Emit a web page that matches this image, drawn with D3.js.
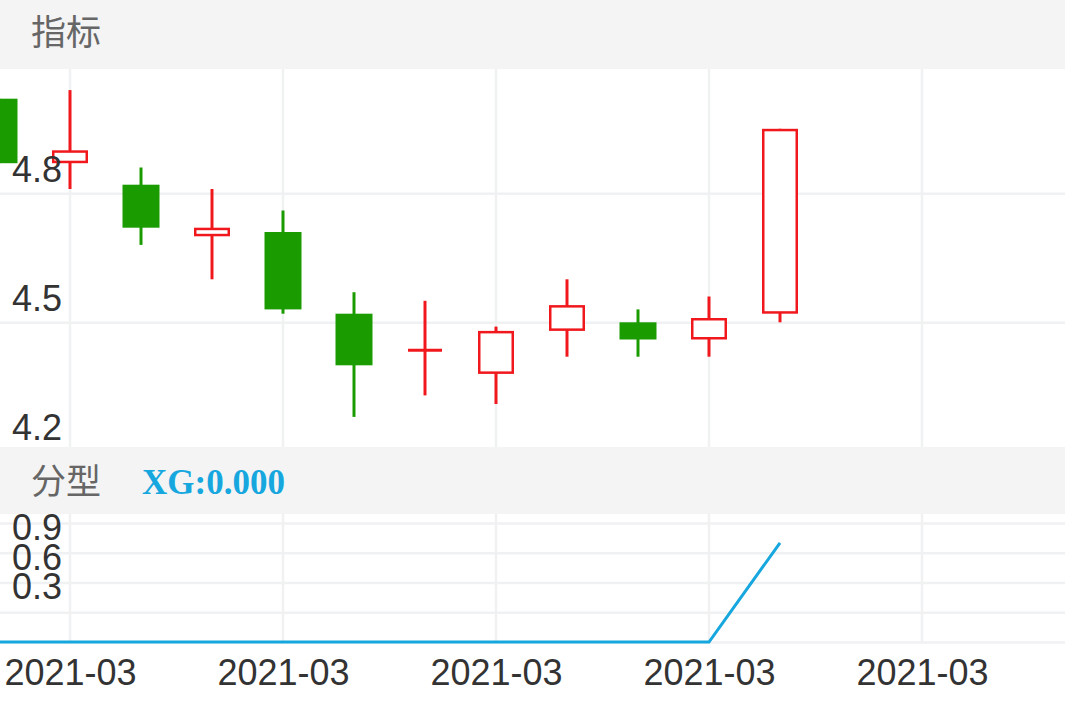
<!DOCTYPE html>
<html>
<head>
<meta charset="utf-8">
<script src="https://cdn.jsdelivr.net/npm/d3@7"></script>
<style>
  html, body { margin: 0; padding: 0; background: #fff; }
  svg { display: block; }
</style>
</head>
<body>
<div id="chart"></div>
<script>
// candle data, left to right (the first one is cut by the left edge)
const opens  = [5.02, 4.87, 4.82, 4.70, 4.71, 4.52, 4.435, 4.38, 4.48, 4.50, 4.46, 4.52];
const closes = [4.87, 4.90, 4.72, 4.72, 4.53, 4.40, 4.435, 4.48, 4.54, 4.46, 4.51, 4.95];
const highs  = [5.02, 5.04, 4.86, 4.81, 4.76, 4.57, 4.55, 4.49, 4.60, 4.53, 4.56, 4.95];
const lows   = [4.87, 4.81, 4.68, 4.60, 4.52, 4.28, 4.33, 4.31, 4.42, 4.42, 4.42, 4.50];
// 分型 indicator
const xgValues = [0, 0, 0, 0, 0, 0, 0, 0, 0, 0, 0, 1];

const priceTicks = [4.2, 4.5, 4.8];
const xgTicks = [0.3, 0.6, 0.9, 1.2];
const xgLabelTicks = [0.3, 0.6, 0.9];
const dateTickIndex = [1, 4, 7, 10, 13];
const dateTickLabels = ['2021-03', '2021-03', '2021-03', '2021-03', '2021-03'];

const mainTitle = '指标';
const subTitle = '分型';
const subLegend = 'XG:0.000';

const W = 1065, H = 708;
const RED = '#f0181c', GREEN = '#1a9c00', BLUE = '#17a7df';
const GRID = '#f0f1f3', BAND = '#f4f4f5';
const NUM_FONT = '"Liberation Sans", Arial, sans-serif';
const CJK_FONT = '"Noto Sans CJK SC", "Noto Sans", sans-serif';

const main = { top: 69, bottom: 447 };
const sub = { top: 514, bottom: 642 };

const x = d3.scaleLinear().domain([0, 15]).range([-1, 1064]);
const y = d3.scaleLinear().domain([4.2, 4.8]).range([451.3, 193.3]);
const ySub = d3.scaleLinear().domain([0, 1.2]).range([642, 523]);

const svg = d3.select('#chart').append('svg')
  .attr('width', W).attr('height', H)
  .attr('viewBox', [0, 0, W, H]);

svg.append('defs').append('clipPath').attr('id', 'clipMain')
  .append('rect').attr('x', 0).attr('y', main.top).attr('width', W).attr('height', main.bottom - main.top);

// grid: horizontal lines through the axes, vertical lines at date ticks
const gMainY = svg.append('g').call(d3.axisLeft(y).tickValues(priceTicks).tickSize(-W));
gMainY.select('.domain').remove();
gMainY.selectAll('line').attr('stroke', GRID).attr('stroke-width', 2.5);
gMainY.selectAll('text').remove();

const gSubY = svg.append('g').call(d3.axisLeft(ySub).tickValues([0].concat(xgTicks)).tickSize(-W));
gSubY.select('.domain').remove();
gSubY.selectAll('line').attr('stroke', GRID).attr('stroke-width', 2.5);
gSubY.selectAll('text').remove();

svg.append('g').selectAll('line').data(dateTickIndex).join('line')
  .attr('x1', d => x(d)).attr('x2', d => x(d))
  .attr('y1', main.top).attr('y2', main.bottom)
  .attr('stroke', GRID).attr('stroke-width', 2.5);
svg.append('g').selectAll('line').data(dateTickIndex).join('line')
  .attr('x1', d => x(d)).attr('x2', d => x(d))
  .attr('y1', sub.top).attr('y2', sub.bottom)
  .attr('stroke', GRID).attr('stroke-width', 2.5);

// candles
const candles = opens.map((o, i) => ({ i, o, c: closes[i], h: highs[i], l: lows[i] }));
const bodyW = 36;
const gC = svg.append('g').attr('clip-path', 'url(#clipMain)');

gC.selectAll('line.wick').data(candles).join('line').attr('class', 'wick')
  .attr('x1', d => x(d.i)).attr('x2', d => x(d.i))
  .attr('y1', d => y(d.h)).attr('y2', d => y(d.l))
  .attr('stroke', d => d.c >= d.o ? RED : GREEN).attr('stroke-width', 3);

gC.selectAll('rect.down').data(candles.filter(d => d.c < d.o)).join('rect').attr('class', 'down')
  .attr('x', d => x(d.i) - bodyW / 2 - 0.5).attr('width', bodyW + 1)
  .attr('y', d => y(d.o)).attr('height', d => y(d.c) - y(d.o))
  .attr('fill', GREEN);

gC.selectAll('rect.up').data(candles.filter(d => d.c > d.o)).join('rect').attr('class', 'up')
  .attr('x', d => x(d.i) - bodyW / 2 + 1.25).attr('width', bodyW - 2.5)
  .attr('y', d => y(d.c) + 1.25).attr('height', d => y(d.o) - y(d.c) - 2.5)
  .attr('fill', '#fff').attr('stroke', RED).attr('stroke-width', 2.5);

gC.selectAll('line.doji').data(candles.filter(d => d.c === d.o)).join('line').attr('class', 'doji')
  .attr('x1', d => x(d.i) - bodyW / 2 + 1).attr('x2', d => x(d.i) + bodyW / 2 - 1)
  .attr('y1', d => y(d.o)).attr('y2', d => y(d.o))
  .attr('stroke', RED).attr('stroke-width', 3);

// price labels sit just above their grid line
svg.append('g').selectAll('text').data(priceTicks).join('text')
  .attr('x', 12).attr('y', d => y(d) - 11)
  .attr('font-family', NUM_FONT).attr('font-size', 36).attr('fill', '#333')
  .text(d => d3.format('.1f')(d));

// indicator line
svg.append('path')
  .attr('d', d3.line().x((_, i) => x(i)).y(v => ySub(v))(xgValues))
  .attr('fill', 'none').attr('stroke', BLUE).attr('stroke-width', 3);

svg.append('g').selectAll('text').data(xgLabelTicks).join('text')
  .attr('x', 12).attr('y', d => ySub(d) - 13)
  .attr('font-family', NUM_FONT).attr('font-size', 36).attr('fill', '#333')
  .text(d => d3.format('.1f')(d));

// header bands
svg.append('rect').attr('x', 0).attr('y', 0).attr('width', W).attr('height', main.top).attr('fill', BAND);
svg.append('rect').attr('x', 0).attr('y', main.bottom).attr('width', W).attr('height', sub.top - main.bottom).attr('fill', BAND);

svg.append('text').attr('x', 31).attr('y', 45)
  .attr('font-family', CJK_FONT).attr('font-size', 35).attr('fill', '#666')
  .text(mainTitle);
svg.append('text').attr('x', 31).attr('y', 494)
  .attr('font-family', CJK_FONT).attr('font-size', 35).attr('fill', '#666')
  .text(subTitle);
svg.append('text').attr('x', 142).attr('y', 494)
  .attr('font-family', '"Liberation Serif", "Times New Roman", serif').attr('font-weight', 'bold')
  .attr('font-size', 35).attr('fill', BLUE)
  .text(subLegend);

// date axis
const gX = svg.append('g').attr('transform', `translate(0,${sub.bottom})`)
  .call(d3.axisBottom(x).tickValues(dateTickIndex).tickSize(0).tickFormat((d, k) => dateTickLabels[k]));
gX.select('.domain').remove();
gX.selectAll('text')
  .attr('y', 43).attr('dy', null)
  .attr('font-family', NUM_FONT).attr('font-size', 36).attr('fill', '#333');
</script>
</body>
</html>
